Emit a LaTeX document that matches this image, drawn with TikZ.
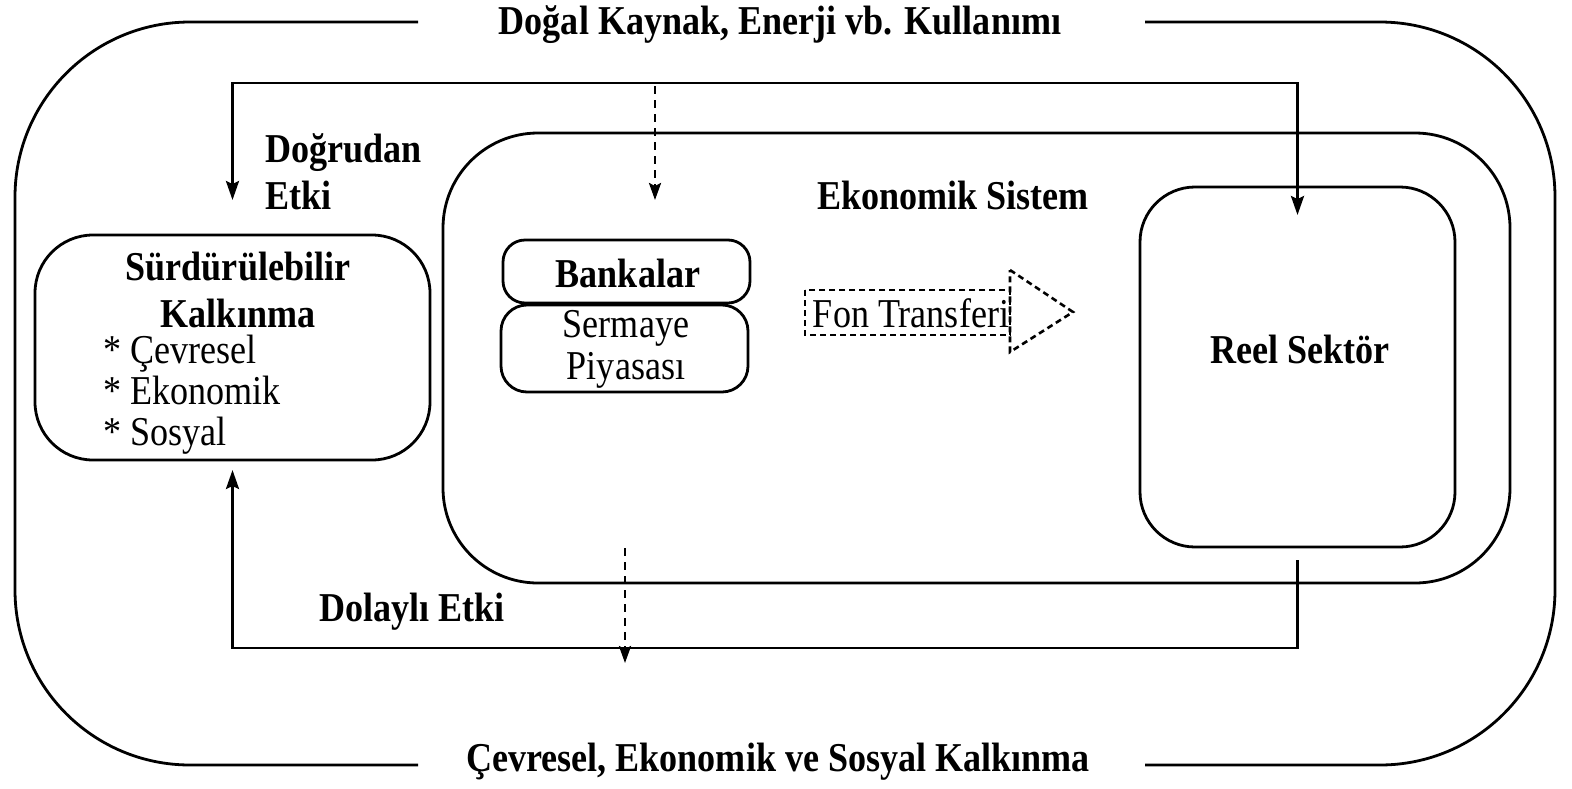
\documentclass[tikz,border=0pt]{standalone}
\usepackage{fontspec}
\setmainfont{Liberation Serif}[FakeStretch=0.88]
\usetikzlibrary{arrows.meta}
\tikzset{
  every node/.style={inner sep=0pt, outer sep=0pt},
  lbl/.style={font=\fontsize{41}{47}\selectfont\bfseries},
  txt/.style={font=\fontsize{41}{42}\selectfont},
  frame/.style={draw, line width=2.8pt},
  conn/.style={line width=2.8pt, -{Stealth[length=19pt,width=13pt,inset=3pt]}},
  dconn/.style={line width=2.6pt, dash pattern=on 8pt off 6pt, -{Stealth[length=17pt,width=12pt,inset=3pt]}},
  fonline/.style={line width=2.6pt, dash pattern=on 6pt off 4pt},
}
\begin{document}
\begin{tikzpicture}[x=1pt,y=-1pt]
\useasboundingbox (0,0) rectangle (1572,788);
\fill[white] (0,0) rectangle (1572,788);

% outer frame
\coordinate (t1) at (418,22);
\coordinate (t2) at (1145,22);
\coordinate (b1) at (418,765);
\coordinate (b2) at (1145,765);
\draw[line width=2.8pt, rounded corners=175pt] (t1) -- (15,22) -- (15,765) -- (b1);
\draw[line width=2.8pt, rounded corners=175pt] (t2) -- (1555,22) -- (1555,765) -- (b2);
\node[lbl] (ttl) at (780,25) {Doğal Kaynak, Enerji vb. Kullanımı};
\node[lbl] (btl) at (778,762) {Çevresel, Ekonomik ve Sosyal Kalkınma};

% Ekonomik Sistem
\node[frame, rounded corners=95pt, minimum width=1067pt, minimum height=450pt] (es) at (976.5,358) {};
\node[lbl] (esl) at (953,195) {Ekonomik Sistem};

% Reel Sektör
\node[frame, rounded corners=55pt, minimum width=315pt, minimum height=360pt] (reel) at (1297.5,367) {};
\node[lbl] (reell) at (1300,349) {Reel Sektör};

% Sürdürülebilir Kalkınma
\node[frame, rounded corners=58pt, minimum width=395pt, minimum height=225pt] (sk) at (232.5,347.5) {};
\node[lbl, align=center] (skt) at (238,290) {Sürdürülebilir\\Kalkınma};
\node[txt, align=left, anchor=west, font=\fontsize{41}{41}\selectfont] (ski) at (103,395) {* Çevresel\\* Ekonomik\\* Sosyal};

% Bankalar / Sermaye
\node[frame, rounded corners=22pt, minimum width=247pt, minimum height=63pt] (bank) at (626.5,271.5) {};
\node[lbl] (bankl) at (628,273) {Bankalar};
\node[frame, rounded corners=26pt, minimum width=247pt, minimum height=87pt] (serm) at (624.5,348.5) {};
\node[txt, align=center] (serml) at (626,349) {Sermaye\\Piyasası};

% Fon Transferi arrow
\draw[fonline] (805,290) rectangle (1010,335);
\draw[fonline] (1010,270) -- (1073,312) -- (1010,352) -- cycle;
\node[txt] (fon) at (911,313) {Fon Transferi};

% Doğrudan Etki
\node[lbl, align=left, anchor=west] (de) at (265,172) {Doğrudan\\Etki};
\node[lbl] (dl) at (412,612) {Dolaylı Etki};

% connectors
\coordinate (top) at (0,83);
\coordinate (bot) at (0,648);
\draw[conn, shorten >=35pt] (reel.north |- top) -- (sk.north |- top) -- (sk.north);
\draw[conn, shorten >=-28pt] (sk.north |- top) -- (reel.north |- top) -- (reel.north);
\draw[conn, shorten <=13pt, shorten >=10pt] (reel.south) -- (reel.south |- bot) -- (sk.south |- bot) -- (sk.south);

% dashed arrows
\coordinate (d1s) at (655,86);
\coordinate (d1e) at (655,200);
\coordinate (d2s) at (625,548);
\coordinate (d2e) at (625,663);
\draw[dconn] (d1s) -- (d1e);
\draw[dconn] (d2s) -- (d2e);
\end{tikzpicture}
\end{document}
